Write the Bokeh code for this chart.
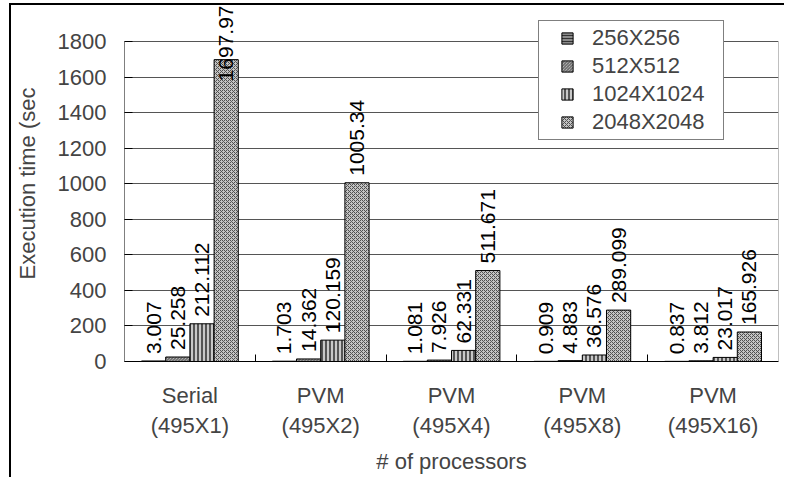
import math
from bokeh.plotting import figure
from bokeh.models import (ColumnDataSource, FixedTicker, LabelSet, Legend, LegendItem, Range1d)
from bokeh.core.properties import value
from bokeh.embed import file_html
from bokeh.resources import INLINE

# ---------------- data ----------------
categories = ["Serial\n(495X1)", "PVM\n(495X2)", "PVM\n(495X4)", "PVM\n(495X8)", "PVM\n(495X16)"]
series_names = ["256X256", "512X512", "1024X1024", "2048X2048"]
s256 = [3.007, 1.703, 1.081, 0.909, 0.837]
s512 = [25.258, 14.362, 7.926, 4.883, 3.812]
s1024 = [212.112, 120.159, 62.331, 36.576, 23.017]
s2048 = [1697.97, 1005.34, 511.671, 289.099, 165.926]
label_text = [
    ["3.007", "1.703", "1.081", "0.909", "0.837"],
    ["25.258", "14.362", "7.926", "4.883", "3.812"],
    ["212.112", "120.159", "62.331", "36.576", "23.017"],
    ["1697.97", "1005.34", "511.671", "289.099", "165.926"],
]
y_ticks = [0, 200, 400, 600, 800, 1000, 1200, 1400, 1600, 1800]
YMAX = 1800.0

FONT = "Liberation Sans"
FS = "22px"
FS_VAL = "21px"

# layout numbers (canvas coordinates)
W, H = 775, 474
ML, MR, MB = 112, 8, 118
TOPGAP = 36                      # space between canvas top and the 1800 line
frame_h = H - MB                 # frame reaches the canvas top
ppu = (frame_h - TOPGAP) / YMAX
YTOP = frame_h / ppu

p = figure(width=W, height=H, output_backend="svg", toolbar_location=None,
           x_range=Range1d(0, len(categories)), y_range=Range1d(0, YTOP),
           min_border_left=ML, min_border_right=MR, min_border_top=0, min_border_bottom=MB)
p.styles = {"margin-left": "9px", "margin-top": "3px",
            "border-left": "2px solid black", "border-top": "2px solid black"}
p.outline_line_color = None
p.background_fill_color = "white"
p.border_fill_color = "white"

# grid
p.xgrid.grid_line_color = None
p.ygrid.grid_line_color = "#555555"
p.ygrid.grid_line_width = 1
p.ygrid.ticker = FixedTicker(ticks=y_ticks)

# plot-area side lines (left axis line black, right border gray), 0..YMAX only
p.segment(x0=[0], y0=[0], x1=[0], y1=[YMAX], line_color="black", line_width=1)
p.segment(x0=[len(categories)], y0=[0], x1=[len(categories)], y1=[YMAX], line_color="#808080", line_width=1)

# y axis
p.yaxis.ticker = FixedTicker(ticks=y_ticks)
p.yaxis.axis_label = "Execution time (sec"
p.yaxis.axis_label_text_font = FONT
p.yaxis.axis_label_text_font_size = FS
p.yaxis.axis_label_text_font_style = "normal"
p.yaxis.axis_label_standoff = 15
p.yaxis.major_label_text_font = FONT
p.yaxis.major_label_text_font_size = FS
p.yaxis.major_label_standoff = 18
p.yaxis.major_tick_in = 8
p.yaxis.major_tick_out = 0
p.yaxis.minor_tick_line_color = None
p.yaxis.axis_line_color = None

# x axis
centers = [i + 0.5 for i in range(len(categories))]
bounds = [i for i in range(1, len(categories))]
p.xaxis.ticker = FixedTicker(ticks=centers, minor_ticks=bounds)
p.xaxis.major_label_overrides = {c: lab for c, lab in zip(centers, categories)}
p.xaxis.major_label_text_font = FONT
p.xaxis.major_label_text_font_size = FS
p.xaxis.major_label_standoff = 15
p.xaxis.major_tick_line_color = None
p.xaxis.minor_tick_in = 7
p.xaxis.minor_tick_out = 0
p.xaxis.minor_tick_line_color = "black"
p.xaxis.axis_label = "# of processors"
p.xaxis.axis_label_text_font = FONT
p.xaxis.axis_label_text_font_size = FS
p.xaxis.axis_label_text_font_style = "normal"
p.xaxis.axis_label_standoff = 8
p.xaxis.axis_line_color = "black"

# bars
bw = 0.185
styles = [
    dict(fill_color="#8a8a8a", hatch_pattern="horizontal_line", hatch_color="#333333", hatch_scale=3, hatch_weight=1),
    dict(fill_color="#d0d0d0", hatch_pattern="left_diagonal_line", hatch_color="#555555", hatch_scale=3, hatch_weight=1),
    dict(fill_color="#c8c8c8", hatch_pattern="vertical_line", hatch_color="#555555", hatch_scale=4, hatch_weight=2),
    dict(fill_color="#c4c4c4", hatch_pattern="diagonal_cross", hatch_color="#505050", hatch_scale=4, hatch_weight=1),
]
all_series = [s256, s512, s1024, s2048]
items = []
for k, (vals, st) in enumerate(zip(all_series, styles)):
    off = (k - 1.5) * bw
    xs = [c + off for c in centers]
    src = ColumnDataSource(dict(x=xs, top=vals))
    p.vbar(x="x", top="top", width=bw, source=src, line_color="black", line_width=1, **st)
    # legend swatch: zero-size square markers (sized by the legend box in the legend)
    sw = p.scatter(x="x", y="top", source=src, size=0, marker="square",
                   line_color="black", line_width=1, **st)
    items.append(LegendItem(label=series_names[k], renderers=[sw]))

    # value labels: start just above the bar, kept within the canvas top
    txt = label_text[k]
    lab_y = []
    for v, t in zip(vals, txt):
        text_len_px = sum(0.278 if ch == "." else 0.556 for ch in t) * 21
        max_start = (frame_h - text_len_px) / ppu
        lab_y.append(min(v + 7 / ppu, max_start))
    lsrc = ColumnDataSource(dict(x=xs, y=lab_y, t=txt))
    ls = LabelSet(x="x", y="y", text="t", source=lsrc, angle=math.pi / 2,
                  text_align="left", text_baseline="middle",
                  text_font=value(FONT), text_font_size=value(FS_VAL), text_color="black")
    p.add_layout(ls)

legend = Legend(items=items, location=(414, 221), orientation="vertical")
legend.label_text_font = FONT
legend.label_text_font_size = FS
legend.glyph_width = 50
legend.glyph_height = 28
legend.label_standoff = -8
legend.label_width = 128
legend.padding = 3
legend.spacing = 0
legend.border_line_color = "black"
legend.border_line_width = 1
legend.background_fill_color = "white"
legend.background_fill_alpha = 1
p.add_layout(legend, "center")

open("out.html", "w").write(file_html(p, INLINE))
